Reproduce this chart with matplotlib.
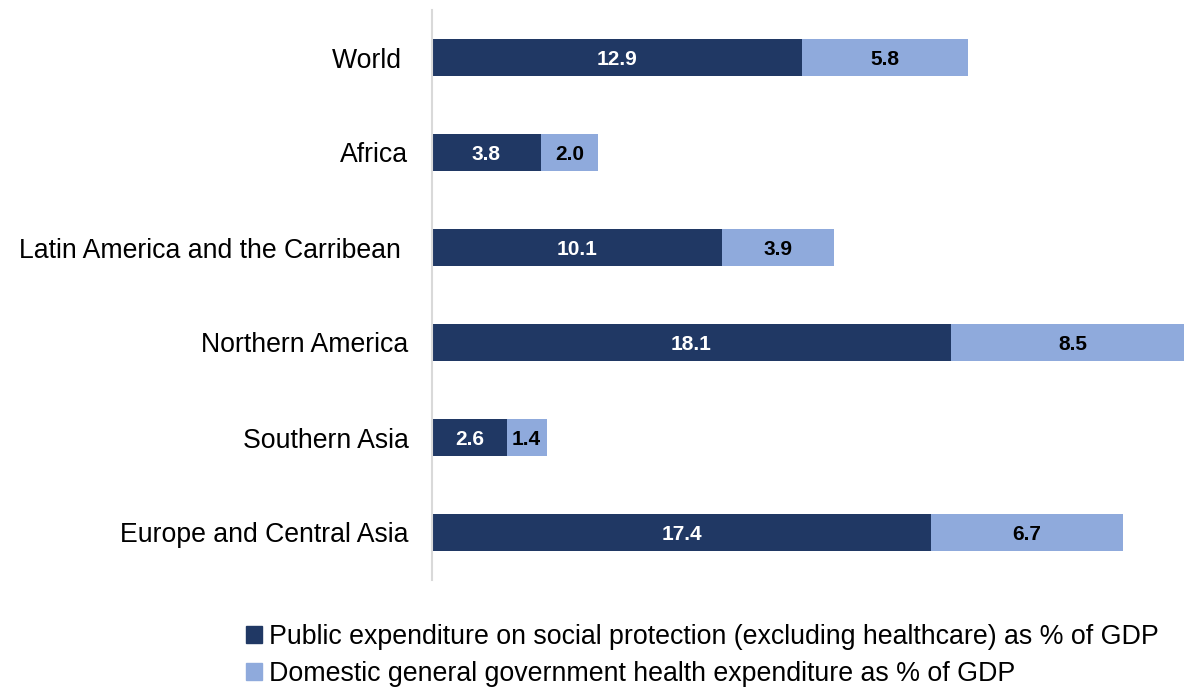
import matplotlib.pyplot as plt
from matplotlib.patches import Patch

plt.rcParams['font.family'] = ['Liberation Sans', 'DejaVu Sans']

regions = ["World ", "Africa", "Latin America and the Carribean ",
           "Northern America", "Southern Asia", "Europe and Central Asia"]
social = [12.9, 3.8, 10.1, 18.1, 2.6, 17.4]
health = [5.8, 2.0, 3.9, 8.5, 1.4, 6.7]
series_names = ["Public expenditure on social protection (excluding healthcare) as % of GDP",
                "Domestic general government health expenditure as % of GDP"]

dark = "#203864"
light = "#8FAADC"

fig = plt.figure(figsize=(11.84, 6.9), dpi=100)
ax = fig.add_axes([432 / 1184, 1 - 580 / 690, 1 - 432 / 1184, 570 / 690])

y = range(len(regions))
b1 = ax.barh(y, social, height=0.39, color=dark)
b2 = ax.barh(y, health, left=social, height=0.39, color=light)

# value labels in the middle of each segment
for rect, v in zip(b1, social):
    ax.text(rect.get_x() + rect.get_width() / 2, rect.get_y() + rect.get_height() / 2 + 0.02,
            f"{v:.1f}", ha="center", va="center", color="white",
            fontsize=15, fontweight="bold")
for rect, v in zip(b2, health):
    ax.text(rect.get_x() + rect.get_width() / 2, rect.get_y() + rect.get_height() / 2 + 0.02,
            f"{v:.1f}", ha="center", va="center", color="black",
            fontsize=15, fontweight="bold")

ax.set_yticks(list(y))
ax.set_yticklabels(regions, fontsize=19.2)
ax.tick_params(axis="y", length=0, pad=17)
ax.set_ylim(5.5, -0.5)
ax.set_xlim(0, (1184 - 432) / 28.68)
ax.set_xticks([])
for side in ["top", "right", "bottom"]:
    ax.spines[side].set_visible(False)
ax.spines["left"].set_color("#D9D9D9")
ax.spines["left"].set_linewidth(1.5)

handles = [Patch(color=dark), Patch(color=light)]
fig.legend(handles, series_names, loc="upper left",
           bbox_to_anchor=(246 / 1184, 1 - 624 / 690), frameon=False,
           fontsize=19.3, handlelength=0.6, handleheight=0.6,
           handletextpad=0.25, labelspacing=0.42, borderpad=0, borderaxespad=0)

fig.savefig("out.png", dpi=100)
